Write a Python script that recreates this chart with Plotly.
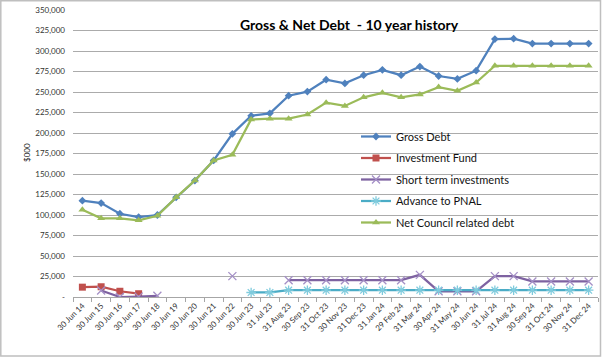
import plotly.graph_objects as go

categories = ["30 Jun 14", "30 Jun 15", "30 Jun 16", "30 Jun 17", "30 Jun 18", "30 Jun 19",
              "30 Jun 20", "30 Jun 21", "30 Jun 22", "30 Jun 23", "31 Jul 23", "31 Aug 23",
              "30 Sep 23", "31 Oct 23", "30 Nov 23", "31 Dec 23", "31 Jan 24", "29 Feb 24",
              "31 Mar 24", "30 Apr 24", "31 May 24", "30 Jun 24", "31 Jul 24", "31 Aug 24",
              "30 Sep 24", "31 Oct 24", "30 Nov 24", "31 Dec 24"]

gross_debt = [117500, 114500, 101500, 97500, 100000, 121500, 142000, 166500, 199000, 221000,
              224000, 245500, 250500, 265000, 260500, 270500, 277000, 270500, 281000, 269500,
              266000, 276000, 314500, 315000, 309000, 309000, 309000, 309000]

investment_fund = [12000, 12500, 7000, 4000, None, None, None, None, None, None,
                   None, None, None, None, None, None, None, None, None, None,
                   None, None, None, None, None, None, None, None]

short_term = [None, 8000, 0, 500, 1500, None, None, None, 25500, None,
              None, 20500, 20500, 20500, 20500, 20500, 20500, 20500, 27000, 7000,
              7000, 7000, 25500, 25500, 19000, 19000, 19000, 19000]

advance_pnal = [None, None, None, None, None, None, None, None, None, 5500,
                5500, 8300, 8300, 8300, 8300, 8300, 8300, 8300, 8300, 8300,
                8300, 8300, 8300, 8300, 8300, 8300, 8300, 8300]

net_debt = [106500, 96000, 96000, 93500, 99000, 121500, 142000, 166500, 173500, 216500,
            217500, 217500, 222500, 237000, 233000, 243500, 249000, 243500, 247000, 256000,
            251500, 261500, 282000, 282000, 282000, 282000, 282000, 282000]

y_tick_values = [0, 25000, 50000, 75000, 100000, 125000, 150000, 175000, 200000,
                 225000, 250000, 275000, 300000, 325000, 350000]
y_tick_labels = ["-", "25,000", "50,000", "75,000", "100,000", "125,000", "150,000",
                 "175,000", "200,000", "225,000", "250,000", "275,000", "300,000",
                 "325,000", "350,000"]

W, H = 602, 358
L, R, T, B = 73, 4, 10, 61
PW, PH = W - L - R, H - T - B


def px(x):
    return (x - L) / PW


def py(y):
    return (H - B - y) / PH


FONT = "Lato"

fig = go.Figure()

series = [
    ("Gross Debt", gross_debt, "#4F81BD", dict(symbol="diamond", size=6, color="#4F81BD")),
    ("Investment Fund", investment_fund, "#C0504D", dict(symbol="square", size=7, color="#C0504D")),
    ("Short term investments", short_term, "#7E62A1",
     dict(symbol="x-thin-open", size=8, color="#A48FC6", line=dict(width=1.3, color="#A48FC6"))),
    ("Advance to PNAL", advance_pnal, "#4BACC6",
     dict(symbol="asterisk-open", size=8, color="#7FCBDD", line=dict(width=1.3, color="#7FCBDD"))),
    ("Net Council related debt", net_debt, "#9BBB59", dict(symbol="triangle-up", size=7, color="#9BBB59")),
]

for i, (name, vals, col, mk) in enumerate(series):
    fig.add_trace(go.Scatter(
        x=categories, y=vals, name=name, mode="lines+markers",
        line=dict(color=col, width=2.25), marker=mk,
        connectgaps=False, legendgroup=f"g{i}",
    ))

fig.update_layout(
    width=W, height=H,
    margin=dict(l=L, r=R, t=T, b=B, autoexpand=False),
    paper_bgcolor="white", plot_bgcolor="white",
    font=dict(family=FONT, color="#222222"),
    showlegend=True,
    legend=dict(
        x=px(356), y=py(122), xanchor="left", yanchor="top",
        bgcolor="rgba(0,0,0,0)", borderwidth=0,
        font=dict(family=FONT, size=11, color="#111111"),
        tracegroupgap=2.5, itemwidth=30,
    ),
    xaxis=dict(
        type="category", range=[-0.5, len(categories) - 0.5],
        showgrid=False, showline=True, linecolor="#a6a6a6", linewidth=1,
        ticks="outside", tickson="boundaries", ticklen=4, tickcolor="#a6a6a6",
        tickangle=-45, tickfont=dict(family=FONT, size=8, color="#333333"),
        automargin=False,
    ),
    yaxis=dict(
        range=[0, 350000], tickvals=y_tick_values, ticktext=y_tick_labels,
        showgrid=True, gridcolor="#ababab", gridwidth=1, zeroline=False,
        showline=False, ticks="", ticklabelstandoff=7,
        tickfont=dict(family=FONT, size=8, color="#333333"),
        automargin=False,
    ),
    annotations=[
        dict(text="<b>Gross & Net Debt  - 10 year history</b>", xref="paper", yref="paper",
             x=px(349), y=py(24), xanchor="center", yanchor="middle", showarrow=False,
             font=dict(family=FONT, size=14, color="#000000")),
        dict(text="$000", xref="paper", yref="paper", x=px(27), y=py(153),
             xanchor="center", yanchor="middle", textangle=-90, showarrow=False,
             font=dict(family=FONT, size=8, color="#222222")),
    ],
    shapes=[
        dict(type="rect", xref="paper", yref="paper",
             x0=px(0.8), x1=px(600.5), y0=py(356), y1=py(0.8),
             line=dict(color="#bfbfbf", width=1.5), fillcolor="rgba(0,0,0,0)", layer="below"),
    ],
)

fig.write_html("out.html", config={"displayModeBar": False},
               post_script="document.body.style.margin='0';document.body.style.overflow='hidden';")
